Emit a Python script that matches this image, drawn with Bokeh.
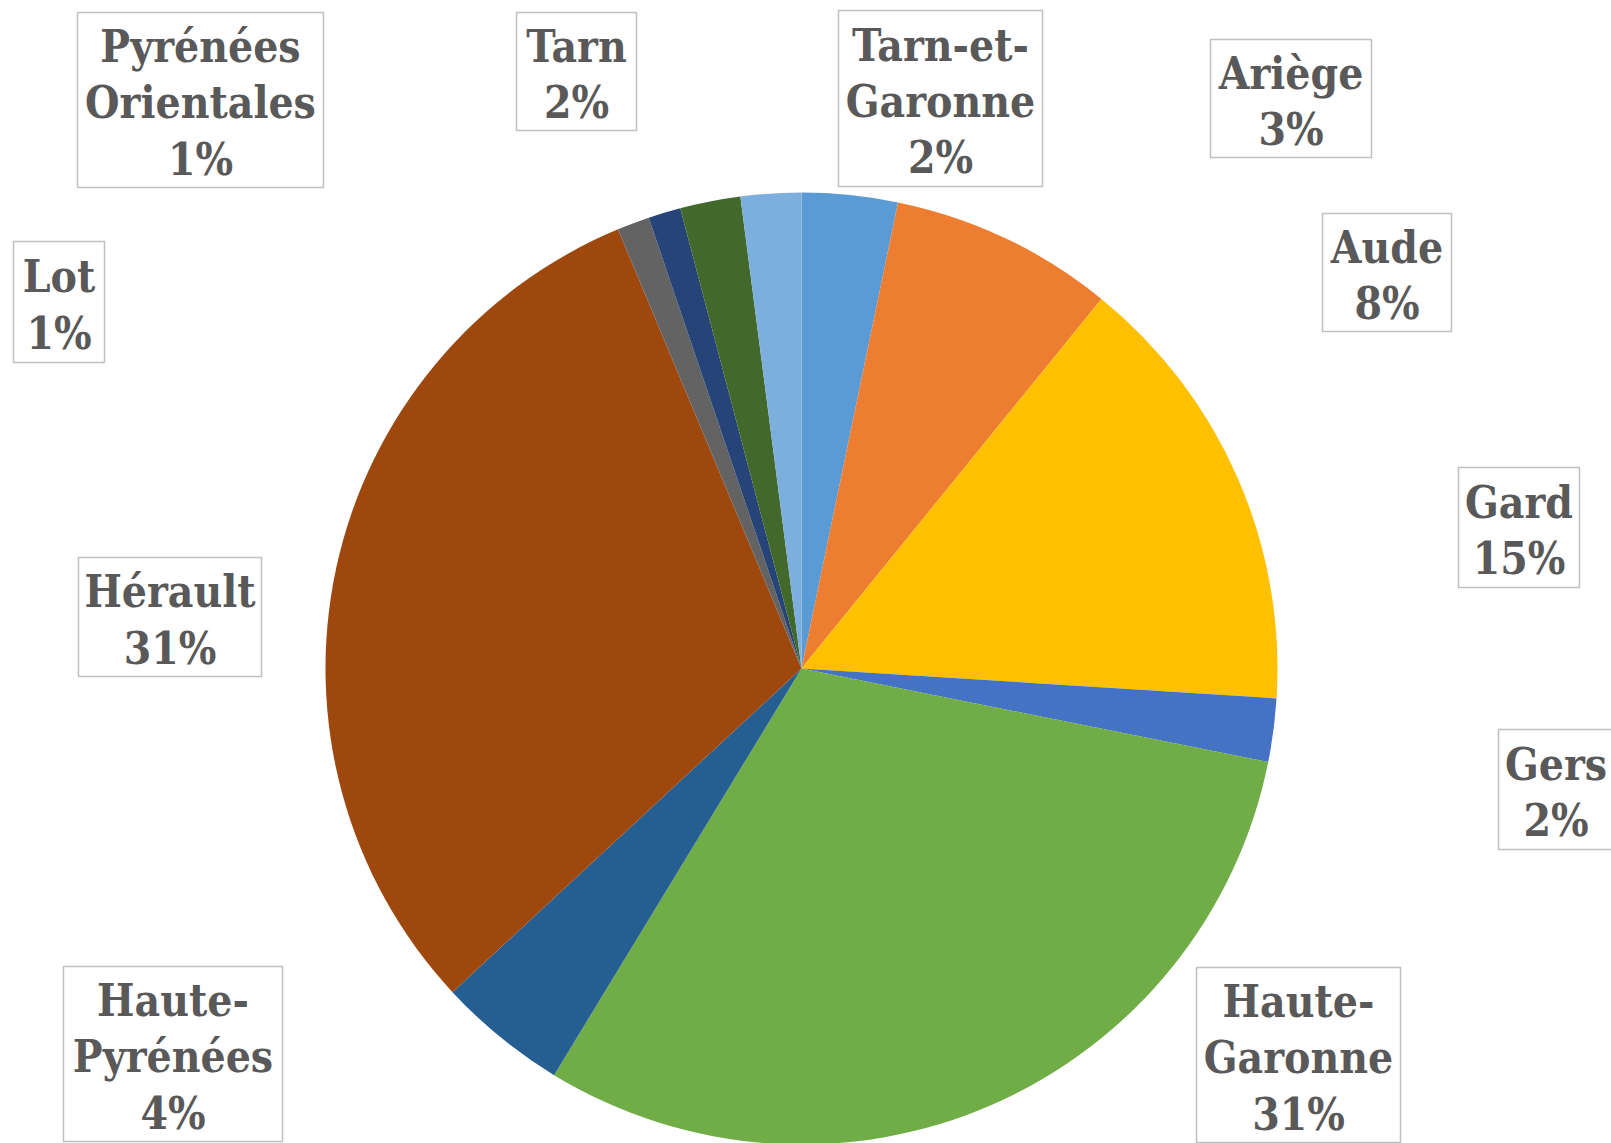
import math
from bokeh.plotting import figure
from bokeh.models import ColumnDataSource, Range1d
from bokeh.core.properties import value
from bokeh.embed import file_html
from bokeh.resources import INLINE

# ---- data ----
departements = ["Ariège", "Aude", "Gard", "Gers", "Haute-Garonne", "Haute-Pyrénées",
                "Hérault", "Lot", "Pyrénées Orientales", "Tarn", "Tarn-et-Garonne"]
label_names = ["Ariège", "Aude", "Gard", "Gers", "Haute-\nGaronne", "Haute-\nPyrénées",
               "Hérault", "Lot", "Pyrénées\nOrientales", "Tarn", "Tarn-et-\nGaronne"]
shares = [3.25, 7.6, 15.15, 2.15, 30.55, 4.4, 30.6, 1.1, 1.1, 2.05, 2.05]
colors = ["#5B9BD5", "#ED7D31", "#FFC000", "#4472C4", "#70AD47", "#255E91",
          "#9E480E", "#636363", "#264478", "#43682B", "#7CAFDD"]

# ---- layout (screen pixels, y downward) ----
W, H = 1611, 1143
CX, CY, R = 801, 668, 476
# label boxes: x0, x1, y0, y1
boxes = [(1210, 1371, 39, 157), (1322, 1451, 213, 331), (1458, 1579, 467, 587),
         (1498, 1613, 729, 849), (1196, 1400, 967, 1142), (63, 282, 966, 1141),
         (78, 261, 557, 676), (13, 104, 241, 362), (77, 323, 12, 187),
         (516, 636, 12, 130), (838, 1042, 10, 186)]

total = sum(shares)
starts, ends = [], []
cum = 0.0
for s in shares:
    starts.append(math.pi / 2 - 2 * math.pi * cum / total)
    cum += s
    ends.append(math.pi / 2 - 2 * math.pi * cum / total)

pie = ColumnDataSource(dict(name=departements, share=shares, start=starts, end=ends, color=colors))

p = figure(width=W, height=H, output_backend="svg", toolbar_location=None,
           x_range=Range1d(0, W), y_range=Range1d(0, H), min_border=0)
p.axis.visible = False
p.grid.visible = False
p.outline_line_color = None
p.background_fill_color = "white"
p.border_fill_color = "white"

p.wedge(x=CX, y=H - CY, radius=R, start_angle="start", end_angle="end",
        direction="clock", fill_color="color", line_color="white", line_width=0,
        source=pie)

texts = [f"{n}\n{math.floor(s / total * 100 + 0.5)}%" for n, s in zip(label_names, shares)]
lab = ColumnDataSource(dict(
    left=[b[0] for b in boxes], right=[b[1] for b in boxes],
    top=[H - b[2] for b in boxes], bottom=[H - b[3] for b in boxes],
    x=[(b[0] + b[1]) / 2 for b in boxes], y=[H - (b[2] + b[3]) / 2 - 3 for b in boxes],
    text=texts))
p.quad(left="left", right="right", top="top", bottom="bottom", source=lab,
       fill_color="white", line_color="#BFBFBF", line_width=1.5)
p.text(x="x", y="y", text="text", source=lab, text_align="center", text_baseline="middle",
       text_font=value("DejaVu Serif Condensed"), text_font_style="bold",
       text_font_size="44px", text_color="#595959", text_line_height=1.1)

open("out.html", "w").write(file_html(p, INLINE))
